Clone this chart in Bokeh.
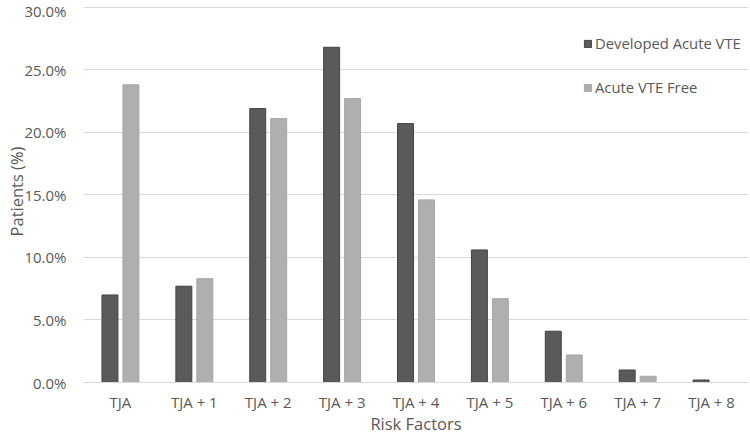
from bokeh.plotting import figure
from bokeh.models import ColumnDataSource, FactorRange, Range1d, SingleIntervalTicker, PrintfTickFormatter, Legend, LegendItem
from bokeh.transform import dodge
from bokeh.embed import file_html
from bokeh.resources import INLINE

categories = ["TJA", "TJA + 1", "TJA + 2", "TJA + 3", "TJA + 4", "TJA + 5", "TJA + 6", "TJA + 7", "TJA + 8"]
developed_vte = [7.0, 7.7, 21.9, 26.8, 20.7, 10.6, 4.1, 1.0, 0.2]
vte_free = [23.8, 8.3, 21.1, 22.7, 14.6, 6.7, 2.2, 0.5, 0.0]
series_names = ["Developed Acute VTE", "Acute VTE Free"]
x_title = "Risk Factors"
y_title = "Patients (%)"

FONT = "Open Sans"
TXT = "#595959"

src = ColumnDataSource(dict(cat=categories, dev=developed_vte, free=vte_free))

p = figure(width=749, height=437, x_range=FactorRange(*categories, range_padding=0),
           y_range=Range1d(0, 30.54), output_backend="svg", toolbar_location=None, title=None,
           min_border_left=83, min_border_right=1, min_border_top=0, min_border_bottom=55)
p.outline_line_color = None
p.background_fill_color = "white"
p.border_fill_color = "white"

r1 = p.vbar(x=dodge("cat", -0.142, range=p.x_range), top="dev", width=0.216, source=src,
            fill_color="#5a5a5a", line_color="#444444", line_width=1)
r2 = p.vbar(x=dodge("cat", 0.142, range=p.x_range), top="free", width=0.216, source=src,
            fill_color="#afafaf", line_color="#a6a6a6", line_width=1)

# y axis
p.yaxis.ticker = SingleIntervalTicker(interval=5)
p.yaxis.formatter = PrintfTickFormatter(format="%.1f%%")
p.yaxis.axis_line_color = None
p.yaxis.major_tick_line_color = None
p.yaxis.minor_tick_line_color = None
p.yaxis.major_tick_out = 0
p.yaxis.major_tick_in = 0
p.yaxis.minor_tick_out = 0
p.yaxis.major_label_standoff = 17
p.yaxis.axis_label = y_title
p.yaxis.axis_label_standoff = -7
for ax in (p.xaxis[0], p.yaxis[0]):
    ax.major_label_text_font = FONT
    ax.major_label_text_font_size = "15px"
    ax.major_label_text_color = TXT
    ax.axis_label_text_font = FONT
    ax.axis_label_text_font_size = "16.5px"
    ax.axis_label_text_color = TXT
    ax.axis_label_text_font_style = "normal"

p.ygrid.grid_line_color = "#d9d9d9"
p.ygrid.grid_line_width = 1
p.xgrid.grid_line_color = None

# x axis
p.xaxis.axis_line_color = "#d9d9d9"
p.xaxis.major_tick_line_color = None
p.xaxis.minor_tick_line_color = None
p.xaxis.major_tick_out = 0
p.xaxis.major_tick_in = 0
p.xaxis.minor_tick_out = 0
p.xaxis.major_label_standoff = 9
p.xaxis.axis_label = x_title
p.xaxis.axis_label_standoff = -3

legend = Legend(items=[LegendItem(label=series_names[0], renderers=[r1]),
                       LegendItem(label=series_names[1], renderers=[r2])],
                location=(500, 285), orientation="vertical")
legend.padding = 0
legend.margin = 0
legend.spacing = 24
legend.glyph_width = 9
legend.glyph_height = 9
legend.label_height = 20
legend.label_standoff = 3
legend.label_text_font = FONT
legend.label_text_font_size = "14.8px"
legend.label_text_color = TXT
legend.background_fill_alpha = 0
legend.border_line_alpha = 0
p.add_layout(legend)

open("out.html", "w").write(file_html(p, INLINE))
